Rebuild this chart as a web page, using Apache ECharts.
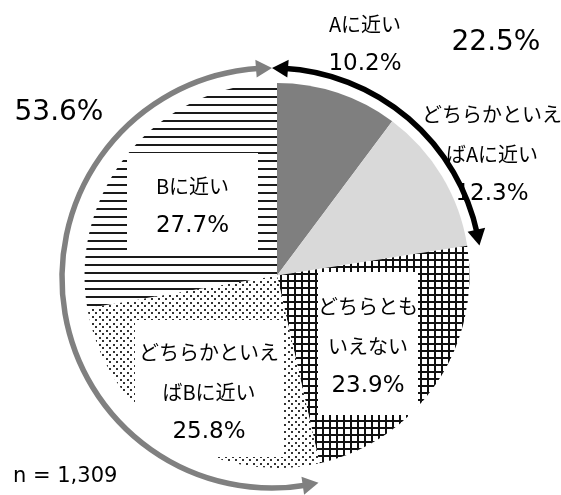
<!DOCTYPE html>
<html>
<head>
<meta charset="utf-8">
<script src="https://cdn.jsdelivr.net/npm/echarts@6/dist/echarts.min.js"></script>
<style>
html,body{margin:0;padding:0;background:#fff;}
#c{width:561px;height:495px;}
</style>
</head>
<body>
<div id="c"></div>
<script>
// ---- data ----
const categories = ['Aに近い', 'どちらかといえばAに近い', 'どちらともいえない', 'どちらかといえばBに近い', 'Bに近い'];
const labelLines = [['Aに近い'], ['どちらかといえ', 'ばAに近い'], ['どちらとも', 'いえない'], ['どちらかといえ', 'ばBに近い'], ['Bに近い']];
const values = [10.2, 12.3, 23.9, 25.8, 27.7];
const groupA = [0, 1];          // 「A」側のまとまり
const groupB = [3, 4];          // 「B」側のまとまり
const groupTotals = ['22.5%', '53.6%'];
const sampleNote = 'n = 1,309';

// ---- layout / style ----
const PIE_CENTER = [277, 275.5];
const PIE_R = 192.5;
const ARC_CENTER = [272, 278];
const ARC_R = 210;
const LABEL_CENTERS = [[365, 44.5], [492, 154], [368, 343.5], [209, 388.5], [192.5, 201.5]];
const LABEL_BOXES = [null, null, { w: 100, pad: [14, 0, 9, 0] }, { w: 148, pad: [12, 0, 5, 0] }, { w: 131, pad: [13, 0, 4, 0] }];
const JP_FONT = "'Noto Sans CJK JP'";
const NUM_FONT = "'DejaVu Sans'";

function makePattern(w, h, draw) {
  const cv = document.createElement('canvas');
  cv.width = w; cv.height = h;
  const ctx = cv.getContext('2d');
  ctx.fillStyle = '#ffffff';
  ctx.fillRect(0, 0, w, h);
  draw(ctx);
  return { image: cv, repeat: 'repeat' };
}
const gridPattern = makePattern(7, 7, ctx => {
  ctx.fillStyle = '#111';
  ctx.fillRect(0, 0, 7, 2);
  ctx.fillRect(0, 0, 2, 7);
});
const dotPattern = makePattern(7, 7, ctx => {
  ctx.fillStyle = '#333';
  ctx.fillRect(1, 1, 2, 2);
  ctx.fillRect(4, 4, 2, 2);
});
const linePattern = makePattern(8, 8, ctx => {
  ctx.fillStyle = '#1a1a1a';
  ctx.fillRect(0, 0, 8, 2);
});
const fills = ['#7f7f7f', '#d9d9d9', gridPattern, dotPattern, linePattern];

// ---- angles derived from data ----
const total = values.reduce((a, b) => a + b, 0);
const cum = [0];
values.forEach(v => cum.push(cum[cum.length - 1] + v));
const ang = i => cum[i] / total * Math.PI * 2;   // clockwise from top
const aStart = ang(groupA[0]), aEnd = ang(groupA[groupA.length - 1] + 1);
const bStart = ang(groupB[0]), bEnd = ang(groupB[groupB.length - 1] + 1);

function pt(theta, r) {
  const phi = theta - Math.PI / 2;
  return [ARC_CENTER[0] + r * Math.cos(phi), ARC_CENTER[1] + r * Math.sin(phi)];
}
const HEAD_L = 16, HEAD_W = 9, ARC_W = 5.5;
function head(theta, dir, color) {
  const base = theta - dir * HEAD_L / ARC_R;
  return {
    type: 'polygon', z: 100,
    shape: { points: [pt(theta, ARC_R), pt(base, ARC_R - HEAD_W), pt(base, ARC_R + HEAD_W)] },
    style: { fill: color }
  };
}
function arcEl(t0, t1, color) {
  const inset = HEAD_L * 0.7 / ARC_R;
  return {
    type: 'arc', z: 100,
    shape: { cx: ARC_CENTER[0], cy: ARC_CENTER[1], r: ARC_R,
             startAngle: t0 + inset - Math.PI / 2, endAngle: t1 - inset - Math.PI / 2, clockwise: true },
    style: { stroke: color, lineWidth: ARC_W, fill: 'none' }
  };
}
const GRAY = '#808080', BLACK = '#000000';

const data = values.map((v, i) => {
  const box = LABEL_BOXES[i];
  const lbl = box ? { backgroundColor: '#ffffff', width: box.w, padding: box.pad } : {};
  return { name: categories[i], value: v, itemStyle: { color: fills[i] }, label: lbl };
});

const option = {
  animation: false,
  backgroundColor: '#ffffff',
  series: [{
    type: 'pie',
    center: PIE_CENTER,
    radius: PIE_R,
    startAngle: 90,
    clockwise: true,
    avoidLabelOverlap: false,
    silent: true,
    itemStyle: { borderWidth: 0 },
    label: {
      show: true,
      position: 'inside',
      overflow: 'none',
      formatter: p => labelLines[p.dataIndex].map(s => '{j|' + s + '}').join('\n') + '\n{p|' + p.value.toFixed(1) + '%}',
      rich: {
        j: { fontFamily: JP_FONT, fontSize: 20, lineHeight: 40, color: '#000', align: 'center' },
        p: { fontFamily: NUM_FONT, fontSize: 23, lineHeight: 40, color: '#000', align: 'center' }
      }
    },
    labelLine: { show: false },
    labelLayout: p => ({ x: LABEL_CENTERS[p.dataIndex][0], y: LABEL_CENTERS[p.dataIndex][1], align: 'center', verticalAlign: 'middle' }),
    data: data
  }],
  graphic: [
    arcEl(bStart, bEnd, GRAY), head(bStart, -1, GRAY), head(bEnd, 1, GRAY),
    arcEl(aStart, aEnd, BLACK), head(aStart, -1, BLACK), head(aEnd, 1, BLACK),
    { type: 'text', z: 100, style: { text: groupTotals[0], x: 496, y: 43, fontFamily: NUM_FONT, fontSize: 28, fill: '#000', textAlign: 'center', textVerticalAlign: 'middle' } },
    { type: 'text', z: 100, style: { text: groupTotals[1], x: 59, y: 113, fontFamily: NUM_FONT, fontSize: 28, fill: '#000', textAlign: 'center', textVerticalAlign: 'middle' } },
    { type: 'text', z: 100, style: { text: sampleNote, x: 13, y: 477, fontFamily: NUM_FONT, fontSize: 21, fill: '#000', textAlign: 'left', textVerticalAlign: 'middle' } }
  ]
};
const chart = echarts.init(document.getElementById('c'));
chart.setOption(option);
</script>
</body>
</html>
